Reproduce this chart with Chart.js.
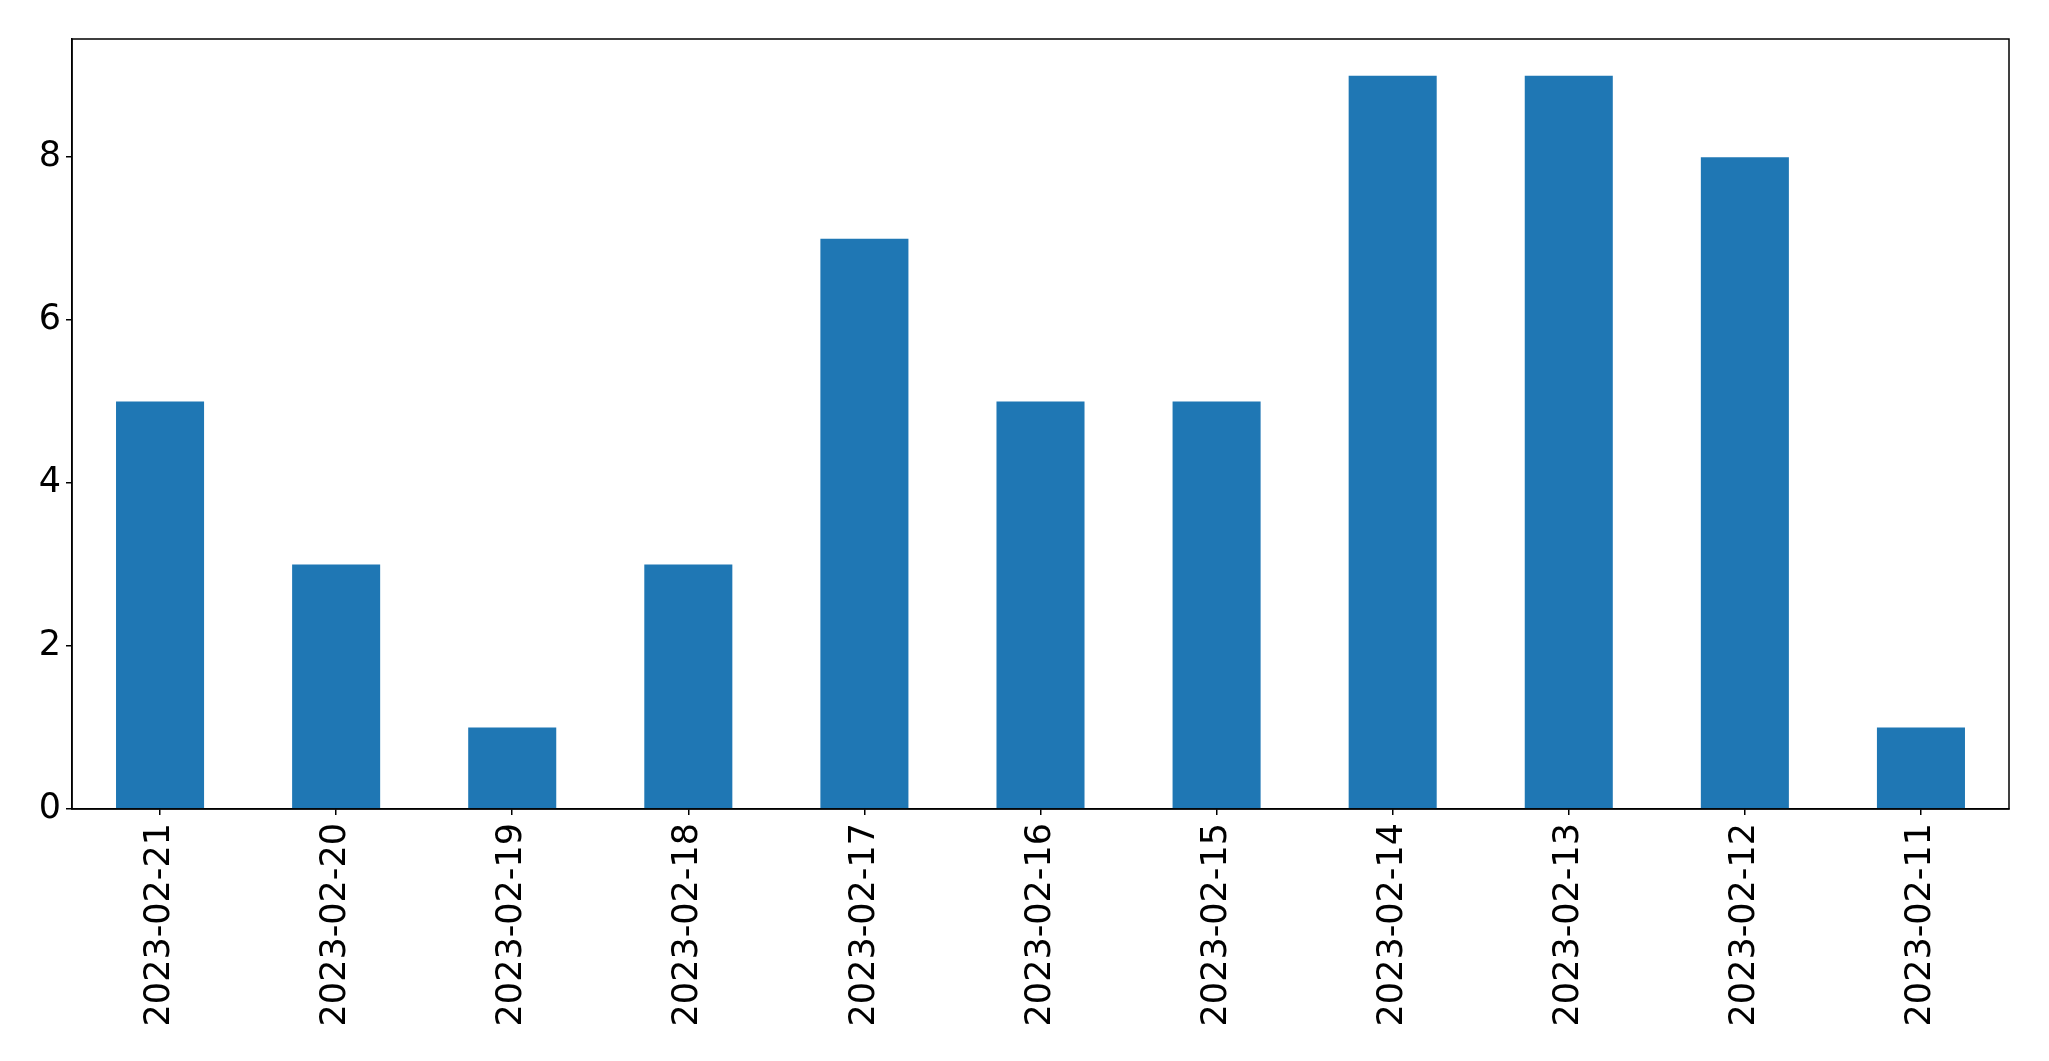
<!DOCTYPE html>
<html>
<head>
<meta charset="utf-8">
<script src="https://cdn.jsdelivr.net/npm/chart.js@4/dist/chart.umd.min.js"></script>
<style>
  html, body { margin: 0; padding: 0; background: #fff; }
  #wrap { width: 2049px; height: 1061px; }
</style>
</head>
<body>
<div id="wrap"><canvas id="c"></canvas></div>
<script>
const categories = ["2023-02-21","2023-02-20","2023-02-19","2023-02-18","2023-02-17","2023-02-16","2023-02-15","2023-02-14","2023-02-13","2023-02-12","2023-02-11"];
const counts = [5, 3, 1, 3, 7, 5, 5, 9, 9, 8, 1];
const yTicks = [0, 2, 4, 6, 8];
const yMax = 9.45;

const frame = {
  id: 'frame',
  afterDraw(chart) {
    const a = chart.chartArea, ctx = chart.ctx;
    ctx.save();
    ctx.strokeStyle = '#000';
    ctx.lineWidth = 1.5;
    ctx.strokeRect(a.left, a.top, a.right - a.left, a.bottom - a.top);
    ctx.restore();
  }
};

new Chart(document.getElementById('c'), {
  type: 'bar',
  data: {
    labels: categories,
    datasets: [{ data: counts, backgroundColor: '#1f77b4', borderWidth: 0, barPercentage: 0.5, categoryPercentage: 1.0 }]
  },
  plugins: [frame],
  options: {
    responsive: true,
    maintainAspectRatio: false,
    animation: false,
    devicePixelRatio: 1,
    layout: { padding: { top: 39, right: 40, left: 0, bottom: 0 } },
    plugins: { legend: { display: false }, tooltip: { enabled: false } },
    scales: {
      x: {
        offset: true,
        grid: { display: true, drawOnChartArea: false, drawTicks: true, tickLength: 6, color: '#000', lineWidth: 1.5, offset: false },
        border: { display: true, color: '#000', width: 1.5 },
        ticks: { color: '#000', font: { family: 'DejaVu Sans', size: 35 }, minRotation: 90, maxRotation: 90, padding: 8, autoSkip: false },
        afterFit(s) { s.height = 252; }
      },
      y: {
        min: 0, max: yMax,
        afterBuildTicks(s) { s.ticks = yTicks.map(v => ({ value: v })); },
        grid: { display: true, drawOnChartArea: false, drawTicks: true, tickLength: 6, color: '#000', lineWidth: 1.5 },
        border: { display: true, color: '#000', width: 1.5 },
        ticks: { color: '#000', font: { family: 'DejaVu Sans', size: 35 }, padding: 5 },
        afterFit(s) { s.width = 72; }
      }
    }
  }
});
</script>
</body>
</html>
